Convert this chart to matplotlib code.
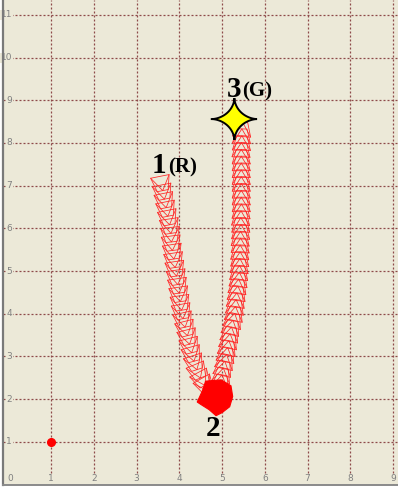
import numpy as np
import matplotlib
matplotlib.use("Agg")
import matplotlib.pyplot as plt
from matplotlib.patches import Polygon

# ---------------- data ----------------
x_ticks = [0, 1, 2, 3, 4, 5, 6, 7, 8, 9]
y_ticks = [1, 2, 3, 4, 5, 6, 7, 8, 9, 10, 11]

# first leg: from start 1(R) down to turning point 2
leg1_x = [3.58, 3.62, 3.66, 3.70, 3.74, 3.78, 3.80, 3.82, 3.85, 3.88, 3.91, 3.94,
          3.97, 4.00, 4.03, 4.06, 4.10, 4.15, 4.20, 4.25, 4.30, 4.36, 4.43, 4.52, 4.60]
leg1_y = [7.05, 6.85, 6.65, 6.45, 6.25, 6.05, 5.85, 5.65, 5.45, 5.25, 5.05, 4.85,
          4.65, 4.45, 4.25, 4.05, 3.85, 3.65, 3.45, 3.25, 3.05, 2.85, 2.65, 2.47, 2.33]

# second leg: from turning point 2 up to goal 3(G)
leg2_x = [4.97, 5.00, 5.03, 5.07, 5.10, 5.13, 5.16, 5.19, 5.22, 5.26, 5.29, 5.31,
          5.33, 5.35, 5.37, 5.39, 5.40, 5.41, 5.42, 5.42, 5.43, 5.43, 5.44, 5.44,
          5.44, 5.45, 5.45, 5.45, 5.45, 5.45, 5.45, 5.45, 5.45, 5.45, 5.45, 5.46,
          5.46, 5.47]
leg2_y = [2.40, 2.56, 2.72, 2.88, 3.04, 3.20, 3.36, 3.52, 3.68, 3.84, 4.00, 4.16,
          4.32, 4.48, 4.64, 4.80, 4.96, 5.12, 5.28, 5.44, 5.60, 5.76, 5.92, 6.08,
          6.24, 6.40, 6.56, 6.72, 6.88, 7.04, 7.20, 7.36, 7.52, 7.68, 7.84, 8.00,
          8.16, 8.32]

# turning region (filled blob) at point 2
turn_x = [4.62, 4.98, 5.21, 5.25, 5.18, 5.00, 4.86, 4.70, 4.51, 4.42, 4.54]
turn_y = [2.42, 2.45, 2.31, 2.06, 1.82, 1.68, 1.61, 1.75, 1.87, 1.93, 2.19]

# goal star and extra point
goal_x, goal_y = 5.29, 8.56
dot_x, dot_y = [1.0], [1.0]

labels = [("1", "(R)", 3.36, 7.30, 3.75),
          ("3", "(G)", 5.12, 9.08, 5.47)]
label2 = ("2", 4.80, 1.32)

# ---------------- figure ----------------
W, H = 398, 487
fig = plt.figure(figsize=(W / 100, H / 100), dpi=100, facecolor="white")
ax = fig.add_axes([3 / W, 2 / H, 395 / W, 485 / H])
bg = "#ECE9D8"
ax.set_facecolor(bg)
ax.set_xlim(-0.123, 9.117)
ax.set_ylim(-0.014, 11.35)

grid_col = "#8E4A4A"
for xv in x_ticks[1:]:
    ax.axvline(xv, color=grid_col, lw=0.9, ls=(0, (1.6, 1.6)), zorder=1)
for yv in y_ticks:
    ax.axhline(yv, color=grid_col, lw=0.9, ls=(0, (1.6, 1.6)), zorder=1)

ax.set_xticks([])
ax.set_yticks([])
for s in ["top", "right"]:
    ax.spines[s].set_visible(False)
ax.spines["left"].set_color("#7A7A7A")
ax.spines["left"].set_linewidth(1.6)
ax.spines["bottom"].set_color("#8A8A8A")
ax.spines["bottom"].set_linewidth(1.4)

tick_kw = dict(fontsize=6.5, color="#808080", family="DejaVu Sans",
               bbox=dict(facecolor=bg, edgecolor="none", pad=0.3), zorder=2)
for xv in x_ticks:
    ax.text(xv + (0.04 if xv == 0 else 0), 0.13, str(xv), ha="center", va="center", **tick_kw)
for yv in y_ticks:
    ax.text(0.09, yv, str(yv), ha="right", va="center", **tick_kw)


# ---------------- footprints ----------------
def draw_leg(xs, ys, L, wb, wf):
    P = np.column_stack([xs, ys])
    d = np.gradient(P, axis=0)
    d = d / np.linalg.norm(d, axis=1)[:, None]
    n = np.column_stack([-d[:, 1], d[:, 0]])
    for p, h, nn in zip(P, d, n):
        back = p - h * L / 2
        front = p + h * L / 2
        bl, br = back + nn * wb / 2, back - nn * wb / 2
        fl, fr = front + nn * wf / 2, front - nn * wf / 2
        ax.add_patch(Polygon([bl, br, fr, fl], closed=True, fill=False,
                             edgecolor="#FF2424", lw=0.55, zorder=3))
        ax.plot([bl[0], front[0], br[0]], [bl[1], front[1], br[1]],
                color="#FF2424", lw=0.55, zorder=3)


draw_leg(leg1_x, leg1_y, 0.34, 0.44, 0.26)
draw_leg(leg2_x, leg2_y, 0.34, 0.42, 0.24)

ax.add_patch(Polygon(np.column_stack([turn_x, turn_y]), closed=True,
                     facecolor="#FF0000", edgecolor="#FF0000", lw=0.8, zorder=4))

# goal star (4-point, concave sides)
t = np.linspace(0, 2 * np.pi, 200)
k = 3.4
Rx, Ry = 0.53, 0.49
sx = goal_x + Rx * np.sign(np.cos(t)) * np.abs(np.cos(t)) ** k
sy = goal_y + Ry * np.sign(np.sin(t)) * np.abs(np.sin(t)) ** k
ax.add_patch(Polygon(np.column_stack([sx, sy]), closed=True, facecolor="#FFFF00",
                     edgecolor="black", lw=1.4, zorder=6))

ax.plot(dot_x, dot_y, "o", color="#FF0000", ms=5.5, mec="#FF0000", zorder=5)

serif = ["Liberation Serif", "DejaVu Serif"]
for big, small, x0, y0, x1 in labels:
    ax.text(x0, y0, big, fontsize=21, fontweight="bold", family=serif,
            ha="left", va="baseline", zorder=7)
    ax.text(x1, y0, small, fontsize=15, fontweight="bold", family=serif,
            ha="left", va="baseline", zorder=7)
ax.text(label2[1], label2[2], label2[0], fontsize=21, fontweight="bold", family=serif,
        ha="center", va="center", zorder=7)

fig.savefig("out.png", dpi=100, facecolor="white")
